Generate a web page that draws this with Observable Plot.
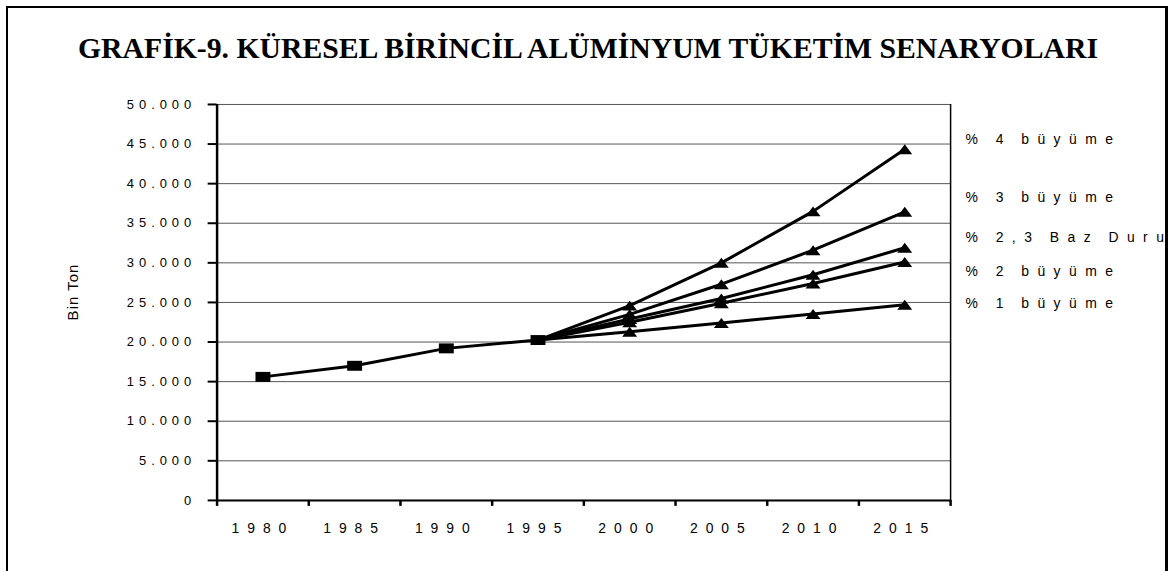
<!DOCTYPE html>
<html>
<head>
<meta charset="utf-8">
<script src="https://cdn.jsdelivr.net/npm/d3@7"></script>
<script src="https://cdn.jsdelivr.net/npm/@observablehq/plot@0.6"></script>
<style>
  body { margin: 0; background: #fff; }
  #wrap { position: relative; width: 1171px; height: 571px; overflow: hidden; background: #fff; }
  #clip { position: absolute; left: 0; top: 0; width: 1165px; height: 571px; overflow: hidden; }
  #frame { position: absolute; left: 6px; top: 6px; width: 1162px; height: 620px; border: 2px solid #000; border-right-width: 3px; box-sizing: border-box; pointer-events: none; }
  #overlay { position: absolute; left: 0; top: 0; pointer-events: none; }
</style>
</head>
<body>
<div id="wrap">
  <div id="clip"></div>
  <svg id="overlay" width="1171" height="571"></svg>
  <div id="frame"></div>
</div>
<script>
// ---- data ----
const title = "GRAFİK-9. KÜRESEL BİRİNCİL ALÜMİNYUM TÜKETİM SENARYOLARI";
const yLabel = "Bin Ton";
const years = [1980, 1985, 1990, 1995, 2000, 2005, 2010, 2015];
const xTickLabels = ["1980", "1985", "1990", "1995", "2000", "2005", "2010", "2015"];
const historyYears = [1980, 1985, 1990, 1995];
const historyValues = [15600, 17000, 19200, 20250];
const scenarioYears = [2000, 2005, 2010, 2015];
const growth4 = [24600, 30000, 36500, 44350];
const growth3 = [23500, 27300, 31600, 36450];
const growth23 = [22900, 25500, 28500, 31900];
const growth2 = [22500, 24900, 27400, 30100];
const growth1 = [21300, 22400, 23550, 24700];
const seriesLabels = ["% 4 büyüme", "% 3 büyüme", "% 2,3 Baz Durum", "% 2 büyüme", "% 1 büyüme"];
const yTicks = [0, 5000, 10000, 15000, 20000, 25000, 30000, 35000, 40000, 45000, 50000];
const yTickLabels = ["0", "5.000", "10.000", "15.000", "20.000", "25.000", "30.000", "35.000", "40.000", "45.000", "50.000"];

// ---- layout (not data) ----
const labelDy = [-10, -14, -10, 10, -1];
const W = 1171, H = 571;
const plotLeft = 217.7, plotRight = 955, plotTop = 104.5, plotBottom = 502.5;

// ---- build tables ----
const history = historyYears.map((x, i) => ({x, y: historyValues[i]}));
const lastHist = history[history.length - 1];
const scenarios = [growth4, growth3, growth23, growth2, growth1].map((vals, k) => ({
  label: seriesLabels[k],
  rows: [lastHist, ...scenarioYears.map((x, i) => ({x, y: vals[i]}))],
  points: scenarioYears.map((x, i) => ({x, y: vals[i]}))
}));

const step = years[1] - years[0];
const x0 = years[0] - step / 2, x1 = years[years.length - 1] + step / 2;
const boundaries = d3.range(years.length + 1).map(i => x0 + i * step);

// custom wide markers (Excel-like stretched)
const wideSquare = {
  draw(ctx, size) {
    const r = Math.sqrt(size / Math.PI);
    ctx.moveTo(-1.5 * r, -r); ctx.lineTo(1.5 * r, -r); ctx.lineTo(1.5 * r, r); ctx.lineTo(-1.5 * r, r); ctx.closePath();
  }
};
const wideTriangle = {
  draw(ctx, size) {
    const r = Math.sqrt(size / Math.PI);
    ctx.moveTo(0, -r); ctx.lineTo(1.5 * r, r); ctx.lineTo(-1.5 * r, r); ctx.closePath();
  }
};

const marks = [
  Plot.ruleY(yTicks, {stroke: "#555", strokeWidth: 1}),
  Plot.ruleX([x1], {y1: 0, y2: 50000, stroke: "#000", strokeWidth: 1.5}),
  Plot.axisY({ticks: yTicks, tickSize: 9, strokeWidth: 2, tickPadding: 12, fontSize: 13, color: "#000", label: null,
    tickFormat: d => yTickLabels[yTicks.indexOf(d)]}),
  Plot.axisX({ticks: boundaries, tickSize: 6, strokeWidth: 2.5, tickFormat: () => "", color: "#000", label: null}),
  Plot.ruleX([x0], {y1: 0, y2: 50000, stroke: "#000", strokeWidth: 2.5}),
  Plot.ruleY([0], {x1: x0, x2: x1, stroke: "#000", strokeWidth: 2}),
  Plot.text(years, {x: d => d, y: () => 0, text: (d, i) => xTickLabels[i], dy: 28, fontSize: 14, fill: "#000"})
];
for (const s of scenarios) {
  marks.push(Plot.line(s.rows, {x: "x", y: "y", stroke: "#000", strokeWidth: 3, strokeLinejoin: "round"}));
}
marks.push(Plot.line(history, {x: "x", y: "y", stroke: "#000", strokeWidth: 3, strokeLinejoin: "round"}));
for (const s of scenarios) {
  marks.push(Plot.dot(s.points, {x: "x", y: "y", symbol: wideTriangle, r: 5, fill: "#000", stroke: "none"}));
}
marks.push(Plot.dot(history, {x: "x", y: "y", symbol: wideSquare, r: 5, fill: "#000", stroke: "none"}));
scenarios.forEach((s, k) => {
  const last = s.points[s.points.length - 1];
  marks.push(Plot.text([last], {y: "y", frameAnchor: "right", textAnchor: "start", dx: 15, dy: labelDy[k],
    text: () => s.label, fontSize: 14, fill: "#000"}));
});

const chart = Plot.plot({
  width: W, height: H,
  marginLeft: plotLeft, marginRight: W - plotRight, marginTop: plotTop, marginBottom: H - plotBottom,
  x: {domain: [x0, x1], axis: null},
  y: {domain: [0, 50000], axis: null},
  style: {fontFamily: "'Liberation Sans', Arial, sans-serif", background: "transparent", overflow: "visible", color: "#000"},
  marks
});
document.getElementById("clip").appendChild(chart);

// letter spacing (Excel-style spaced text)
d3.select(chart).selectAll("text").each(function() {
  const t = this.textContent;
  if (yTickLabels.includes(t)) this.setAttribute("letter-spacing", 5);
  else if (xTickLabels.includes(t)) this.setAttribute("letter-spacing", 8);
  else if (seriesLabels.includes(t)) { this.setAttribute("letter-spacing", 8.5); this.setAttribute("word-spacing", -3); }
});

const overlay = d3.select("#overlay");
// title
overlay.append("text")
  .attr("x", 78).attr("y", 58)
  .attr("textLength", 1020).attr("lengthAdjust", "spacingAndGlyphs")
  .attr("font-family", "'Liberation Serif', 'Times New Roman', serif")
  .attr("font-weight", "bold").attr("font-size", 30).attr("fill", "#000")
  .text(title);
// y axis title
overlay.append("text")
  .attr("transform", "translate(78,292) rotate(-90)")
  .attr("text-anchor", "middle")
  .attr("font-family", "'Liberation Sans', Arial, sans-serif")
  .attr("font-size", 15).attr("letter-spacing", 1).attr("fill", "#000")
  .text(yLabel);
</script>
</body>
</html>
